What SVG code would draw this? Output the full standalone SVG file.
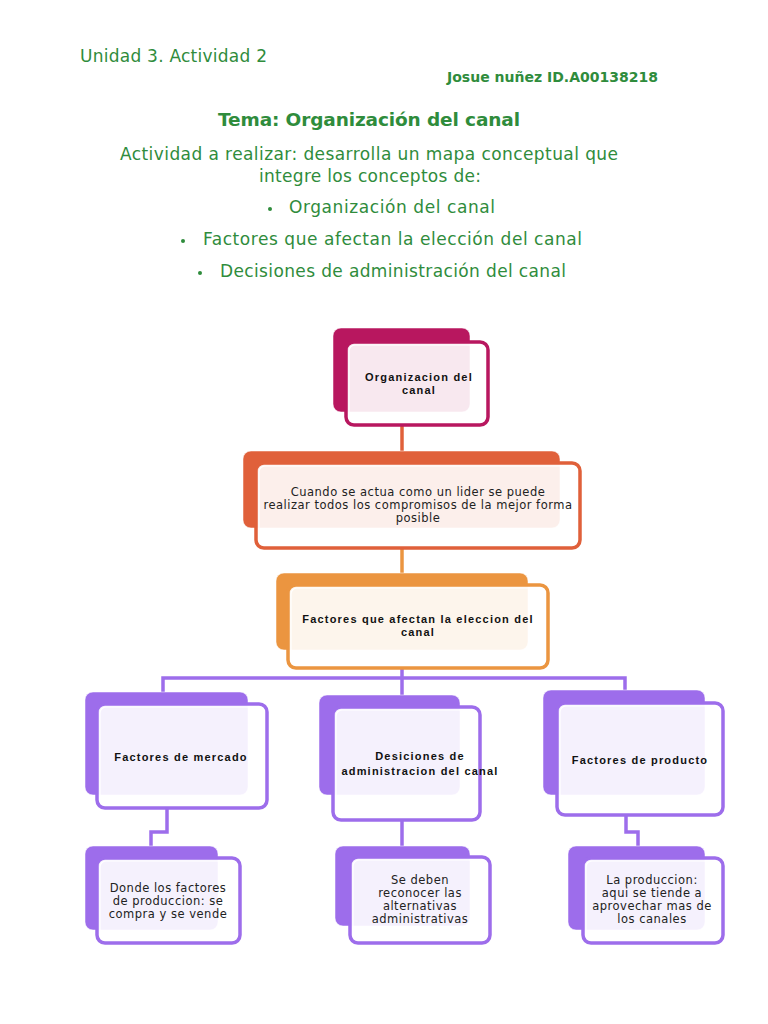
<svg xmlns="http://www.w3.org/2000/svg" width="768" height="1024" viewBox="0 0 768 1024">
<style>
.hd{font-family:"DejaVu Sans","Liberation Sans",sans-serif;fill:#2F8C3C}
.b{font-family:"Liberation Sans",Arial,sans-serif;font-weight:bold;font-size:11px;letter-spacing:1.2px;fill:#111;text-anchor:middle}
.r{font-family:"DejaVu Sans","Liberation Sans",sans-serif;font-size:11.5px;letter-spacing:0.5px;fill:#222;text-anchor:middle}
.front{fill:#fff;fill-opacity:0.9;stroke-width:3.5}
.inner{fill:none;stroke:#fff;stroke-width:1.2}
.mag .back{fill:#B8175F}.mag .front{stroke:#B8175F}
.ora1 .back{fill:#E0603A}.ora1 .front{stroke:#E0603A}
.ora2 .back{fill:#EB9540}.ora2 .front{stroke:#EB9540}
.pur .back{fill:#9D6DEB}.pur .front{stroke:#9D6DEB}
.back{stroke:#fff;stroke-opacity:0.5;stroke-width:1}
.cp{fill:none;stroke:#9D6DEB;stroke-width:3.5}
</style>
<rect width="768" height="1024" fill="#fff"/>
<g id="header">
<text class="hd" x="80" y="62" font-size="17" textLength="187">Unidad 3. Actividad 2</text>
<text class="hd" x="447" y="82" font-size="14" font-weight="bold" textLength="211">Josue nuñez ID.A00138218</text>
<text class="hd" x="218" y="126" font-size="18.5" font-weight="bold" textLength="302">Tema: Organización del canal</text>
<text class="hd" x="120" y="160" font-size="17" textLength="498">Actividad a realizar: desarrolla un mapa conceptual que</text>
<text class="hd" x="259" y="182" font-size="17" textLength="222">integre los conceptos de:</text>
<circle cx="270" cy="209" r="2" fill="#2F8C3C"/>
<text class="hd" x="289" y="213" font-size="17" textLength="206">Organización del canal</text>
<circle cx="183" cy="241" r="2" fill="#2F8C3C"/>
<text class="hd" x="203" y="245" font-size="17" textLength="379">Factores que afectan la elección del canal</text>
<circle cx="200" cy="273" r="2" fill="#2F8C3C"/>
<text class="hd" x="220" y="277" font-size="17" textLength="346">Decisiones de administración del canal</text>
</g>
<g id="connectors">
<line x1="402" y1="425" x2="402" y2="452" stroke="#E0603A" stroke-width="3.5"/>
<line x1="402" y1="548" x2="402" y2="574" stroke="#EB9540" stroke-width="3.5"/>
<line class="cp" x1="402" y1="668" x2="402" y2="708"/>
<polyline class="cp" points="163,693 163,678 625,678 625,691"/>
<polyline class="cp" points="167,808 167,832 151,832 151,847"/>
<line class="cp" x1="402" y1="820" x2="402" y2="847"/>
<polyline class="cp" points="626,815 626,832 638,832 638,847"/>
</g>
<g id="n1" class="mag">
<rect class="back" x="333" y="328" width="137" height="84" rx="8"/>
<rect class="front" x="346" y="342" width="142" height="83" rx="8"/>
<rect class="inner" x="349" y="345" width="136" height="77" rx="6"/>
<text class="b" x="419" y="381">Organizacion del</text>
<text class="b" x="419" y="394">canal</text>
</g>
<g id="n2" class="ora1">
<rect class="back" x="243" y="451" width="317" height="77" rx="8"/>
<rect class="front" x="256" y="463" width="324" height="85" rx="8"/>
<rect class="inner" x="259" y="466" width="318" height="79" rx="6"/>
<text class="r" x="418" y="496">Cuando se actua como un lider se puede</text>
<text class="r" x="418" y="509">realizar todos los compromisos de la mejor forma</text>
<text class="r" x="418" y="522">posible</text>
</g>
<g id="n3" class="ora2">
<rect class="back" x="276" y="573" width="252" height="77" rx="8"/>
<rect class="front" x="288" y="585" width="260" height="83" rx="8"/>
<rect class="inner" x="291" y="588" width="254" height="77" rx="6"/>
<text class="b" x="418" y="623">Factores que afectan la eleccion del</text>
<text class="b" x="418" y="636">canal</text>
</g>
<g id="n4" class="pur">
<rect class="back" x="85" y="692" width="163" height="103" rx="8"/>
<rect class="front" x="97" y="704" width="170" height="104" rx="8"/>
<rect class="inner" x="100" y="707" width="164" height="98" rx="6"/>
<text class="b" x="181" y="761">Factores de mercado</text>
</g>
<g id="n5" class="pur">
<rect class="back" x="319" y="695" width="141" height="100" rx="8"/>
<rect class="front" x="333" y="707" width="147" height="113" rx="8"/>
<rect class="inner" x="336" y="710" width="141" height="107" rx="6"/>
<text class="b" x="420" y="760">Desiciones de</text>
<text class="b" x="420" y="775">administracion del canal</text>
</g>
<g id="n6" class="pur">
<rect class="back" x="543" y="690" width="162" height="105" rx="8"/>
<rect class="front" x="557" y="703" width="166" height="112" rx="8"/>
<rect class="inner" x="560" y="706" width="160" height="106" rx="6"/>
<text class="b" x="640" y="764">Factores de producto</text>
</g>
<g id="n7" class="pur">
<rect class="back" x="85" y="846" width="133" height="84" rx="8"/>
<rect class="front" x="97" y="858" width="143" height="85" rx="8"/>
<rect class="inner" x="100" y="861" width="137" height="79" rx="6"/>
<text class="r" x="168" y="892">Donde los factores</text>
<text class="r" x="168" y="905">de produccion: se</text>
<text class="r" x="168" y="918">compra y se vende</text>
</g>
<g id="n8" class="pur">
<rect class="back" x="335" y="846" width="135" height="80" rx="8"/>
<rect class="front" x="350" y="857" width="140" height="86" rx="8"/>
<rect class="inner" x="353" y="860" width="134" height="80" rx="6"/>
<text class="r" x="420" y="884">Se deben</text>
<text class="r" x="420" y="897">reconocer las</text>
<text class="r" x="420" y="910">alternativas</text>
<text class="r" x="420" y="923">administrativas</text>
</g>
<g id="n9" class="pur">
<rect class="back" x="568" y="846" width="137" height="84" rx="8"/>
<rect class="front" x="583" y="858" width="140" height="85" rx="8"/>
<rect class="inner" x="586" y="861" width="134" height="79" rx="6"/>
<text class="r" x="652" y="884">La produccion:</text>
<text class="r" x="652" y="897">aqui se tiende a</text>
<text class="r" x="652" y="910">aprovechar mas de</text>
<text class="r" x="652" y="923">los canales</text>
</g>
</svg>
